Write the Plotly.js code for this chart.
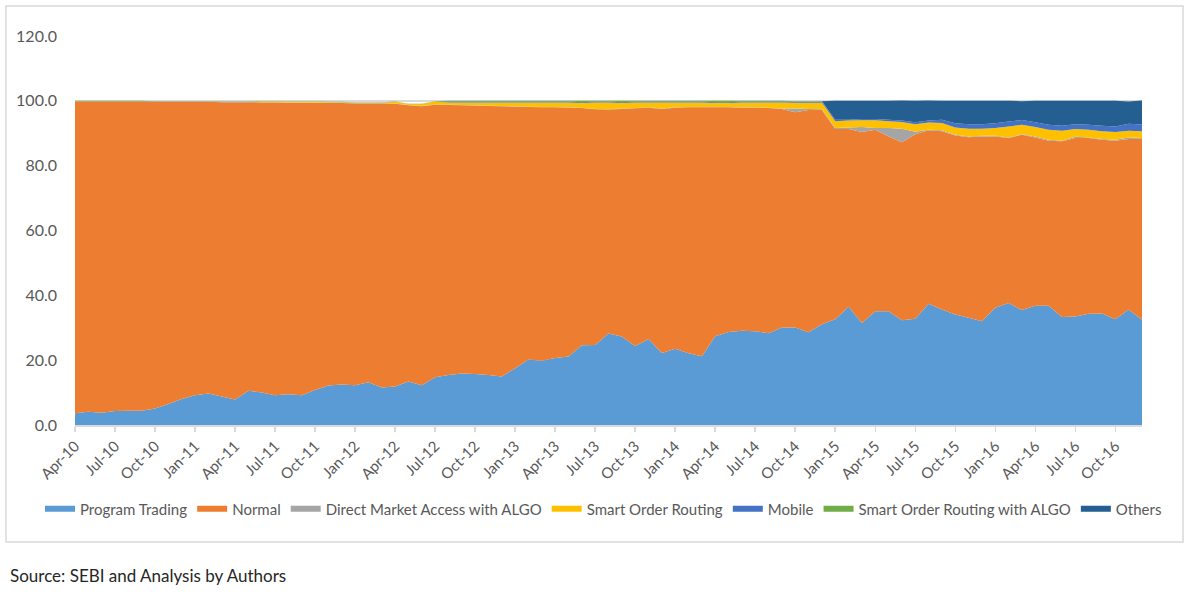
<!DOCTYPE html>
<html>
<head>
<meta charset="utf-8">
<script src="https://cdn.plot.ly/plotly-3.0.1.min.js"></script>
<style>
  html, body { margin: 0; padding: 0; background: #ffffff; }
  #chart { width: 1192px; height: 593px; }
</style>
</head>
<body>
<div id="chart"></div>
<script>
// monthly shares (%), Apr-10 .. Dec-16
const tickLabels = ["Apr-10","Jul-10","Oct-10","Jan-11","Apr-11","Jul-11","Oct-11","Jan-12","Apr-12",
  "Jul-12","Oct-12","Jan-13","Apr-13","Jul-13","Oct-13","Jan-14","Apr-14","Jul-14","Oct-14",
  "Jan-15","Apr-15","Jul-15","Oct-15","Jan-16","Apr-16","Jul-16","Oct-16"];

const programTrading = [3.6,4.1,3.8,4.3,4.4,4.4,5.1,6.5,8.0,9.2,9.7,8.8,7.9,10.6,10.0,9.2,9.5,9.2,10.8,12.2,
  12.5,12.3,13.2,11.6,11.9,13.4,12.3,14.7,15.4,15.9,15.7,15.4,15.0,17.5,20.2,19.8,20.7,21.1,24.6,24.7,
  28.2,27.3,24.4,26.5,22.2,23.5,22.1,21.2,27.4,28.7,29.1,28.9,28.3,30.1,30.1,28.6,31.1,32.6,36.5,31.5,
  35.1,35.1,32.3,32.8,37.4,35.6,34.1,33.1,32.0,36.2,37.6,35.5,36.8,36.8,33.3,33.5,34.3,34.4,32.6,35.6,32.5];

const normal = [96.2,95.7,96.0,95.5,95.4,95.4,94.6,93.2,91.7,90.5,90.0,90.8,91.7,89.0,89.5,90.3,89.9,90.2,88.6,87.1,
  86.8,86.9,86.0,87.6,87.2,85.2,86.0,84.1,83.3,82.7,82.8,83.0,83.3,80.7,77.9,78.2,77.3,76.8,73.2,72.7,
  69.1,70.2,73.3,71.4,75.3,74.4,75.9,76.8,70.6,69.3,68.8,69.0,69.5,67.4,66.4,68.6,66.1,58.7,54.8,58.9,
  56.0,53.9,54.9,56.9,53.5,55.0,55.2,55.7,57.0,52.8,50.9,54.0,51.9,50.9,54.2,55.0,54.2,53.6,55.1,52.6,55.8];

const dmaAlgo = [0.1,0.1,0.1,0.1,0.1,0.1,0.1,0.1,0.1,0.1,0.1,0.1,0.1,0.1,0.1,0.1,0.1,0.1,0.1,0.1,
  0.1,0.1,0.1,0.1,0.1,0.1,0.1,0.1,0.1,0.1,0.1,0.1,0.1,0.1,0.1,0.1,0.1,0.1,0.1,0.1,
  0.1,0.1,0.1,0.1,0.1,0.1,0.1,0.1,0.1,0.1,0.1,0.1,0.1,0.1,1.1,0.3,0.2,0.3,0.5,1.5,
  0.5,2.6,4.2,0.8,0.2,0.3,0.2,0.2,0.2,0.2,0.2,0.2,0.3,0.3,0.2,0.4,0.2,0.2,0.3,0.5,0.2];

const smartOrderRouting = [0,0,0,0,0,0,0,0,0,0,0,0,0,0,0.2,0.2,0.2,0.2,0.2,0.2,
  0.2,0.2,0.2,0.2,0.5,0.3,0.6,0.9,0.7,0.8,0.9,1.0,1.1,1.2,1.3,1.4,1.4,1.5,1.4,2.0,
  2.1,1.7,1.7,1.5,1.9,1.5,1.4,1.4,1.2,1.2,1.5,1.5,1.6,1.9,1.8,1.9,2.0,2.1,2.1,2.1,
  2.4,2.1,2.1,2.3,2.2,2.3,2.3,2.4,2.2,2.4,3.4,2.9,2.9,3.1,3.1,2.4,2.4,2.4,2.4,2.1,2.1];

const mobile = [0,0,0,0,0,0,0,0,0,0,0,0,0,0,0,0,0,0,0,0,
  0,0,0,0,0,0,0,0,0.3,0.3,0.3,0.3,0.3,0.3,0.3,0.3,0.3,0.3,0.3,0.3,
  0.3,0.3,0.3,0.3,0.3,0.3,0.3,0.3,0.3,0.3,0.3,0.3,0.3,0.3,0.3,0.3,0.3,0.5,0.3,0.4,
  0.4,0.5,0.4,0.6,0.6,1.0,1.3,1.4,1.4,1.5,1.5,1.5,1.5,1.5,1.5,1.5,1.5,1.7,1.7,2.1,2.1];

const sorAlgo = [0.1,0.1,0.1,0.1,0.1,0.1,0.1,0.1,0.1,0.1,0.1,0.1,0.1,0.1,0.1,0.1,0.1,0.1,0.1,0.1,
  0.1,0.1,0.1,0.1,0.1,0.1,0.1,0.1,0.2,0.2,0.2,0.2,0.2,0.2,0.2,0.2,0.2,0.2,0.4,0.2,
  0.2,0.4,0.2,0.2,0.2,0.2,0.2,0.2,0.4,0.4,0.2,0.2,0.2,0.2,0.2,0.2,0.2,0,0,0,
  0,0,0,0,0,0,0,0,0,0,0,0,0,0,0,0,0,0,0,0,0];

const others = [0,0,0,0,0,0,0,0,0,0,0,0,0,0,0,0,0,0,0,0,
  0,0,0,0,0,0,0,0,0,0,0,0,0,0,0,0,0,0,0,0,
  0,0,0,0,0,0,0,0,0,0,0,0,0,0,0,0,0,5.8,5.8,5.6,
  5.6,5.8,6.2,6.6,6.2,5.8,6.9,7.2,7.2,6.9,6.4,5.8,6.6,7.4,7.7,7.2,7.4,7.7,7.9,6.9,7.4];

const seriesNames = ["Program Trading","Normal","Direct Market Access with ALGO","Smart Order Routing",
  "Mobile","Smart Order Routing with ALGO","Others"];
const seriesColors = ["#5b9bd5","#ed7d31","#a5a5a5","#ffc000","#4472c4","#70ad47","#255e91"];

const months = programTrading.map((_, i) => i);
const tickVals = tickLabels.map((_, i) => i * 3);

const allSeries = [programTrading, normal, dmaAlgo, smartOrderRouting, mobile, sorAlgo, others];
const traces = allSeries.map((vals, k) => ({
    x: months,
    y: vals,
    name: seriesNames[k],
    type: 'scatter',
    mode: 'none',
    stackgroup: 'one',
    fillcolor: seriesColors[k],
    hoverinfo: 'skip'
}));

const font = "Lato, 'Open Sans', sans-serif";
const plotL = 75, plotR = 1142, plotT = 36, plotB = 425;
const pw = plotR - plotL, ph = plotB - plotT;
const px = v => (v - plotL) / pw;
const py = v => (plotB - v) / ph;

const layout = {
    width: 1192,
    height: 593,
    margin: {l: plotL, r: 1192 - plotR, t: plotT, b: 593 - plotB},
    paper_bgcolor: '#ffffff',
    plot_bgcolor: '#ffffff',
    font: {family: font, color: '#595959'},
    showlegend: true,
    // x left of the plot area lets the row use the wider space
    legend: {
        orientation: 'h',
        traceorder: 'normal',
        x: px(40), xanchor: 'left',
        y: py(509), yanchor: 'middle',
        font: {family: font, size: 15, color: '#595959'},
        itemwidth: 30,
        tracegroupgap: 0
    },
    xaxis: {
        range: [0, 80],
        tickvals: tickVals,
        ticktext: tickLabels,
        tickangle: -45,
        tickfont: {family: font, size: 15, color: '#595959'},
        ticks: 'outside', ticklen: 5, tickcolor: '#d9d9d9', tickwidth: 1.5,
        showline: true, linecolor: '#d9d9d9', linewidth: 1.5,
        showgrid: false, zeroline: false, fixedrange: true
    },
    yaxis: {
        range: [0, 120],
        dtick: 20,
        tickformat: '.1f',
        tickfont: {family: font, size: 16, color: '#595959'},
        ticks: '', ticklabelstandoff: 17,
        showgrid: true, gridcolor: '#d9d9d9', gridwidth: 1.5,
        zeroline: false, showline: false, fixedrange: true
    },
    shapes: [{
        type: 'rect', xref: 'paper', yref: 'paper', layer: 'below',
        x0: px(6), x1: px(1183), y0: py(542), y1: py(6),
        line: {color: '#d9d9d9', width: 1.5}, fillcolor: 'rgba(0,0,0,0)'
    }],
    annotations: [{
        xref: 'paper', yref: 'paper',
        x: px(8), y: py(575), xanchor: 'left', yanchor: 'middle',
        text: 'Source: SEBI and Analysis by Authors',
        showarrow: false,
        font: {family: font, size: 17, color: '#262626'}
    }]
};

Plotly.newPlot('chart', traces, layout, {displayModeBar: false, staticPlot: true});
</script>
</body>
</html>
